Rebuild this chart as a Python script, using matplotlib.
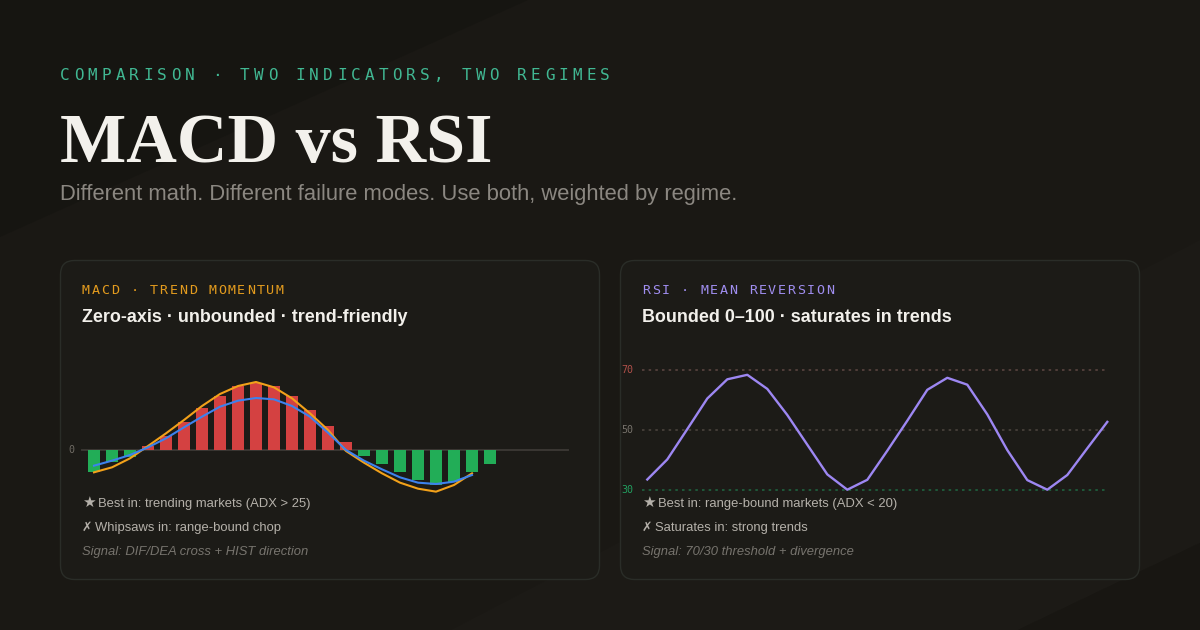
import matplotlib
matplotlib.use("Agg")
import matplotlib.pyplot as plt
from matplotlib.patches import FancyBboxPatch, Polygon
import numpy as np

# ---------------- data ----------------
macd_hist = [-0.65, -0.37, -0.22, 0.11, 0.42, 0.84, 1.26, 1.62, 1.92, 2.02, 1.92, 1.62,
             1.20, 0.72, 0.24, -0.18, -0.42, -0.66, -0.90, -1.05, -0.96, -0.66, -0.42]
macd_dif = [-0.67, -0.52, -0.25, 0.12, 0.50, 0.90, 1.32, 1.68, 1.92, 2.04, 1.88, 1.55,
            1.10, 0.60, -0.03, -0.38, -0.70, -0.98, -1.16, -1.25, -1.05, -0.70]
macd_dea = [-0.47, -0.32, -0.15, 0.08, 0.35, 0.68, 1.00, 1.30, 1.48, 1.56, 1.52, 1.32,
            1.00, 0.52, 0.00, -0.32, -0.58, -0.82, -0.98, -1.02, -0.95, -0.75]
rsi_values = [33.4, 40.1, 50.2, 60.4, 66.8, 68.3, 63.6, 54.9, 45.0, 35.1, 30.0, 33.3,
              43.0, 53.0, 63.3, 67.3, 65.0, 55.1, 43.2, 33.2, 30.0, 34.9, 43.8, 52.6]
rsi_levels = [70, 50, 30]
rsi_level_labels = ["70", "50", "30"]

kicker = "COMPARISON · TWO INDICATORS, TWO REGIMES"
title = "MACD vs RSI"
subtitle = "Different math. Different failure modes. Use both, weighted by regime."
macd_kicker = "MACD · TREND MOMENTUM"
macd_heading = "Zero-axis · unbounded · trend-friendly"
macd_notes = [("★", "Best in: trending markets (ADX > 25)"), ("✗", "Whipsaws in: range-bound chop")]
macd_signal = "Signal: DIF/DEA cross + HIST direction"
rsi_kicker = "RSI · MEAN REVERSION"
rsi_heading = "Bounded 0–100 · saturates in trends"
rsi_notes = [("★", "Best in: range-bound markets (ADX < 20)"), ("✗", "Saturates in: strong trends")]
rsi_signal = "Signal: 70/30 threshold + divergence"

# ---------------- style ----------------
BG = "#1a1814"
BG_DARK = "#161511"
BG_LIGHT = "#1c1a16"
BG_DARK2 = "#181612"
PANEL = "#1c1b17"
PANEL_EDGE = "#2a2d28"
TEAL = "#41b893"
ORANGE_K = "#e39b1e"
PURPLE_K = "#a08ef0"
RED = "#d44141"
GREEN = "#22ad57"
DIF_C = "#f2a11a"
DEA_C = "#3d82ee"
RSI_C = "#9d87f2"
SANS = ["Liberation Sans", "DejaVu Sans"]
MONO = ["DejaVu Sans Mono"]
SERIF = ["Liberation Serif", "DejaVu Serif"]

W, H = 1200, 630
fig = plt.figure(figsize=(W / 100, H / 100), dpi=100)
fig.patch.set_facecolor(BG)

bg = fig.add_axes([0, 0, 1, 1])
bg.set_xlim(0, W)
bg.set_ylim(H, 0)
bg.axis("off")

# background diagonal bands
bg.add_patch(Polygon([[0, 0], [528, 0], [0, 237]], closed=True, facecolor=BG_DARK, edgecolor="none", zorder=0))
bg.add_patch(Polygon([[1200, 240], [1200, 543], [1018, 630], [451, 630]], closed=True,
                     facecolor=BG_LIGHT, edgecolor="none", zorder=0))
bg.add_patch(Polygon([[1200, 543], [1200, 630], [1018, 630]], closed=True, facecolor=BG_DARK2,
                     edgecolor="none", zorder=0))


def spaced(x, y, s, adv, **kw):
    for i, ch in enumerate(s):
        bg.text(x + i * adv, y, ch, va="baseline", ha="left", **kw)


# header
spaced(60, 80, kicker, 13.85, family=MONO, fontsize=11.5, color=TEAL)
bg.text(60, 162, title, family=SERIF, fontweight="bold", fontsize=50.5, color="#f3f1ec", va="baseline", ha="left")
bg.text(60, 200, subtitle, family=SANS, fontsize=15.8, color="#8b8781", va="baseline", ha="left")

# panels
for x0, w in [(60.5, 539), (620.5, 519)]:
    bg.add_patch(FancyBboxPatch((x0, 260.5), w, 319, boxstyle="round,pad=0,rounding_size=14",
                                facecolor=PANEL, edgecolor=PANEL_EDGE, linewidth=1.0, zorder=1))

for px, k, kc, head, notes, sig in [(82, macd_kicker, ORANGE_K, macd_heading, macd_notes, macd_signal),
                                    (642, rsi_kicker, PURPLE_K, rsi_heading, rsi_notes, rsi_signal)]:
    spaced(px, 294, k, 9.7, family=MONO, fontsize=9.6, color=kc, zorder=3)
    bg.text(px, 322, head, family=SANS, fontweight="bold", fontsize=12.9, color="#f2f0eb",
            va="baseline", ha="left", zorder=3)
    for (sym, txt), yb in zip(notes, [507, 531]):
        is_star = sym == "★"
        bg.text(px, yb, sym, family=["DejaVu Sans"], fontsize=11.0 if is_star else 9.0,
                color="#b5b1aa", va="baseline", ha="left", zorder=3)
        bg.text(px + (16 if is_star else 13), yb, txt, family=SANS, fontsize=9.4, color="#b5b1aa",
                va="baseline", ha="left", zorder=3)
    bg.text(px, 555, sig, family=SANS, fontsize=9.35, style="italic", color="#77746e",
            va="baseline", ha="left", zorder=3)


def px_axes(left, top, right, bottom):
    return fig.add_axes([left / W, 1 - bottom / H, (right - left) / W, (bottom - top) / H])


# ---------------- MACD chart ----------------
ax1 = px_axes(60, 350, 600, 500)
ax1.patch.set_alpha(0)
ax1.axis("off")
ax1.set_xlim((60 - 94) / 18, (600 - 94) / 18)
ax1.set_ylim((450 - 500) / 33.33, (450 - 350) / 33.33)
ax1.axhline(0, xmin=(82 - 60) / 540, xmax=(568 - 60) / 540, color="#3a3733", lw=1.4, zorder=1)
xh = np.arange(len(macd_hist))
hcol = [RED if v > 0 else GREEN for v in macd_hist]
ax1.bar(xh, macd_hist, width=12 / 18, color=hcol, zorder=2, linewidth=0)
xl = np.arange(len(macd_dif))
ax1.plot(xl, macd_dif, color=DIF_C, lw=1.5, zorder=3, solid_joinstyle="round")
ax1.plot(xl, macd_dea, color=DEA_C, lw=1.5, zorder=4, solid_joinstyle="round")
ax1.text((68 - 60) / 540, 0, "0", transform=ax1.get_yaxis_transform(),
         family=MONO, fontsize=7.2, color="#6f6b64", va="center", ha="left")

# ---------------- RSI chart ----------------
ax2 = px_axes(620, 350, 1140, 500)
ax2.patch.set_alpha(0)
ax2.axis("off")
ax2.set_xlim((620 - 647.3) / 20, (1140 - 647.3) / 20)
ax2.set_ylim(50 + (429.7 - 500) / 3, 50 + (429.7 - 350) / 3)
lvl_line_c = ["#5a4540", "#4a433d", "#1f6440"]
lvl_text_c = ["#b0504a", "#77736c", "#22a060"]
for lv, lab, lc, tc in zip(rsi_levels, rsi_level_labels, lvl_line_c, lvl_text_c):
    ax2.axhline(lv, xmin=(642 - 620) / 520, xmax=(1108 - 620) / 520, color=lc, lw=1.2,
                linestyle=(0, (1.5, 2.5)), zorder=1)
    ax2.text((621 - 620) / 520, lv, lab, transform=ax2.get_yaxis_transform(),
             family=MONO, fontsize=7.2, color=tc, va="center", ha="left")
xr = np.arange(len(rsi_values))
ax2.plot(xr, rsi_values, color=RSI_C, lw=1.7, zorder=3, solid_joinstyle="round", clip_on=False)

fig.savefig("out.png", dpi=100, facecolor=BG)
